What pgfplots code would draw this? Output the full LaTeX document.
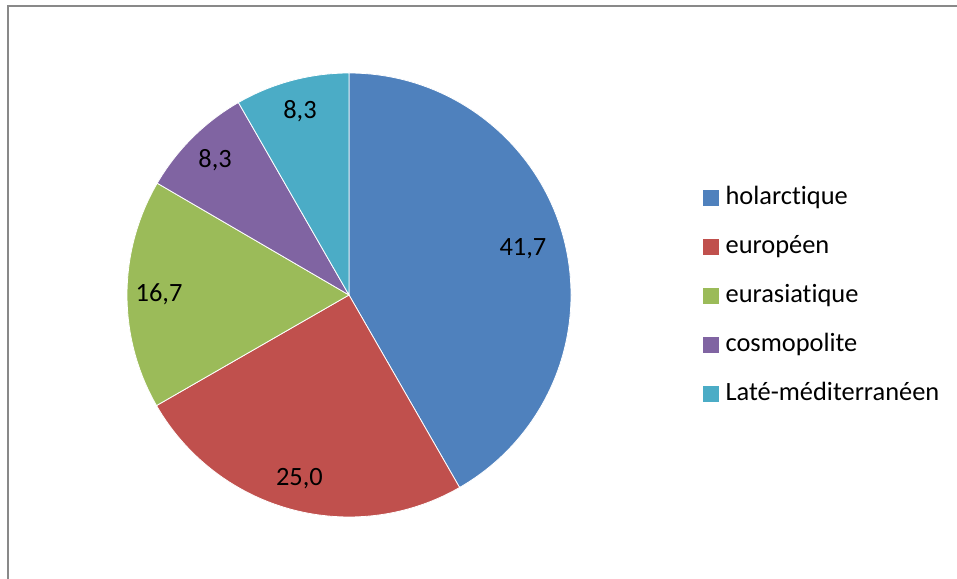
\documentclass[border=0pt]{standalone}
\usepackage{pgfplots}
\pgfplotsset{compat=1.18}
\usepackage{pgfplotstable}
\usepackage{fontspec}
\setmainfont{Carlito}[Ligatures=NoCommon]
\definecolor{pie0}{HTML}{4F81BD}
\definecolor{pie1}{HTML}{C0504D}
\definecolor{pie2}{HTML}{9BBB59}
\definecolor{pie3}{HTML}{8064A2}
\definecolor{pie4}{HTML}{4BACC6}
\definecolor{framegray}{HTML}{898989}

\pgfplotstableread[col sep=comma]{
label,value,lr
holarctique,41.7,180
européen,25.0,190
eurasiatique,16.7,190
cosmopolite,8.3,190
Laté-méditerranéen,8.3,190
}\piedata

\def\cx{349}
\def\cy{284}
\def\rad{222}
\newcommand\chartfont{\fontsize{26.5}{31}\selectfont}

\begin{document}
\begin{tikzpicture}
\useasboundingbox (0,0) rectangle (957bp,579bp);
\draw[framegray, line width=2bp] (8bp,-10bp) -- (8bp,573bp) -- (970bp,573bp);
\gdef\cumul{0}%
\pgfplotsforeachungrouped \i in {0,...,4}{%
  \pgfplotstablegetelem{\i}{value}\of\piedata
  \let\val\pgfplotsretval
  \pgfplotstablegetelem{\i}{lr}\of\piedata
  \let\lr\pgfplotsretval
  \pgfmathsetmacro\st{90-3.6*\cumul}%
  \pgfmathsetmacro\newcum{\cumul+\val}%
  \pgfmathsetmacro\en{90-3.6*\newcum}%
  \pgfmathsetmacro\mid{(\st+\en)/2}%
  \pgfmathsetmacro\lx{\cx+\lr*cos(\mid)}%
  \pgfmathsetmacro\ly{\cy+\lr*sin(\mid)}%
  \expandafter\xdef\csname pieS\i\endcsname{\st}%
  \expandafter\xdef\csname pieE\i\endcsname{\en}%
  \expandafter\xdef\csname pieX\i\endcsname{\lx}%
  \expandafter\xdef\csname pieY\i\endcsname{\ly}%
  \expandafter\xdef\csname pieV\i\endcsname{\val}%
  \xdef\cumul{\newcum}%
}%
\begin{axis}[
  at={(0,0)}, anchor=south west,
  scale only axis, width=957bp, height=579bp,
  xmin=0, xmax=957, ymin=0, ymax=579,
  hide axis, clip=false,
  legend image code/.code={\fill[#1] (0bp,-7.5bp) rectangle (15bp,7.5bp);},
  legend cell align=left,
  legend style={at={(axis cs:703,393)}, anchor=north west, draw=none, fill=none,
    font=\chartfont, inner sep=0pt, row sep=26bp,
    nodes={inner sep=0pt, text height=18bp, text depth=5bp},
    /tikz/every odd column/.append style={column sep=7bp}},
]
\pgfplotsinvokeforeach{0,...,4}{%
  \fill[pie#1, draw=white, line width=0.8bp] (axis cs:\cx,\cy) -- ++({\csname pieS#1\endcsname}:\rad bp)
     arc[start angle={\csname pieS#1\endcsname}, end angle={\csname pieE#1\endcsname}, radius=\rad bp] -- cycle;
}
\pgfplotsinvokeforeach{0,...,4}{%
  \node[font=\chartfont, text=black] at (axis cs:{\csname pieX#1\endcsname},{\csname pieY#1\endcsname})
    {\pgfmathprintnumber[fixed, fixed zerofill, precision=1, use comma, assume math mode=true]{\csname pieV#1\endcsname}};
}
\addlegendimage{pie0}\addlegendentry{holarctique}
\addlegendimage{pie1}\addlegendentry{européen}
\addlegendimage{pie2}\addlegendentry{eurasiatique}
\addlegendimage{pie3}\addlegendentry{cosmopolite}
\addlegendimage{pie4}\addlegendentry{Laté-méditerranéen}
\end{axis}
\end{tikzpicture}
\end{document}
